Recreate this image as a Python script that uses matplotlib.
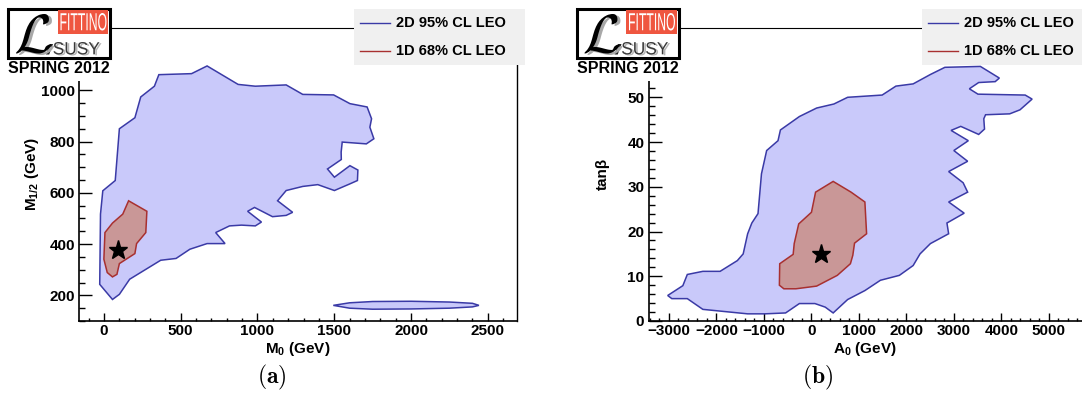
import matplotlib
matplotlib.use('Agg')
import matplotlib.pyplot as plt
from matplotlib.patches import Rectangle, PathPatch
from matplotlib.textpath import TextPath
from matplotlib.font_manager import FontProperties
from matplotlib.transforms import Affine2D
from matplotlib.ticker import MultipleLocator
from matplotlib.lines import Line2D

plt.rcParams['font.family'] = ['Liberation Sans', 'DejaVu Sans']
plt.rcParams['font.weight'] = 'bold'
plt.rcParams['mathtext.fontset'] = 'custom'
plt.rcParams['mathtext.rm'] = 'Liberation Sans:bold'
plt.rcParams['mathtext.it'] = 'Liberation Sans:bold'
plt.rcParams['mathtext.bf'] = 'Liberation Sans:bold'
plt.rcParams['mathtext.default'] = 'rm'

# ---------------- data (a): M0 vs M1/2 ----------------
m0_95 = [56, -27, -22, -7, 74, 101, 202, 240, 329, 358, 571, 672, 874, 986, 1187,
         1295, 1496, 1602, 1714, 1743, 1732, 1758, 1709, 1552, 1545, 1546, 1456,
         1501, 1602, 1654, 1651, 1602, 1501, 1393, 1295, 1187, 1131, 1229, 1187,
         1098, 981, 936, 1026, 986, 896, 818, 728, 789, 672, 560, 470, 370, 168, 101]
m12_95 = [184, 243, 517, 608, 648, 850, 893, 974, 1016, 1061, 1065, 1095, 1023, 1016,
          1021, 984, 982, 948, 935, 889, 856, 811, 791, 798, 759, 730, 693, 661, 706,
          689, 648, 635, 609, 632, 625, 609, 569, 524, 512, 507, 543, 528, 486, 471,
          474, 471, 445, 402, 402, 380, 344, 337, 263, 204]
m0_95_island = [1494, 1600, 1750, 2000, 2250, 2400, 2442, 2400, 2250, 2000, 1750, 1600]
m12_95_island = [161, 171, 176, 177, 174, 169, 161, 155, 150, 147, 146, 150]
m0_68 = [161, 280, 273, 213, 202, 101, 85, 56, 22, 0, 7, 56, 123]
m12_68 = [569, 528, 445, 402, 363, 324, 282, 272, 289, 341, 445, 482, 517]
best_a = (90, 376)

# ---------------- data (b): A0 vs tan(beta) ----------------
a0_95 = [-3026, -2707, -2613, -2286, -1923, -1560, -1437, -1343, -1255, -1125, -1052,
         -943, -704, -653, -254, 109, 472, 762, 1488, 1778, 2141, 2504, 2809, 3556,
         3955, 3868, 3520, 3324, 3505, 4499, 4645, 4390, 4173, 3665, 3628, 3643, 3520,
         3143, 2939, 3302, 2997, 3288, 2888, 3193, 3288, 2888, 3215, 2852, 2888, 2504,
         2286, 2141, 1851, 1451, 1125, 762, 457, 290, 73, -254, -544, -980, -1343,
         -2286, -2613, -2939]
tb_95 = [5.7, 7.9, 10.4, 11.1, 11.1, 13.5, 15.0, 19.5, 21.9, 24.0, 32.9, 38.1, 40.3,
         42.7, 45.7, 47.6, 48.5, 50.0, 50.5, 52.5, 53.0, 55.1, 56.7, 56.9, 54.3, 53.5,
         53.3, 51.9, 50.7, 50.5, 49.6, 47.2, 46.3, 46.1, 45.2, 42.9, 41.7, 43.5, 42.6,
         40.3, 38.1, 35.7, 33.4, 30.9, 28.8, 26.6, 24.1, 21.9, 19.5, 17.3, 15.0, 12.4,
         10.2, 9.1, 6.8, 4.8, 1.8, 3.1, 3.9, 3.9, 1.8, 1.6, 1.6, 2.6, 5.0, 5.0]
a0_68 = [457, 834, 1125, 1161, 907, 871, 820, 544, 109, -327, -581, -675, -668, -385,
         -363, -268, 0, 87]
tb_68 = [31.2, 28.8, 26.6, 19.5, 17.4, 14.7, 12.8, 10.2, 7.8, 7.2, 7.2, 8.0, 12.8,
         14.9, 17.3, 21.7, 24.3, 28.8]
best_b = (203, 14.9)

xticks_a = [0, 500, 1000, 1500, 2000, 2500]
yticks_a = [200, 400, 600, 800, 1000]
xticks_b = [-3000, -2000, -1000, 0, 1000, 2000, 3000, 4000, 5000]
yticks_b = [0, 10, 20, 30, 40, 50]
legend_labels = ['2D 95% CL LEO', '1D 68% CL LEO']
panel_tags = ['(a)', '(b)']

BLUE_FILL = '#c9c9fa'
BLUE_EDGE = '#3a3aa6'
RED_FILL = '#c99797'
RED_EDGE = '#a83030'

W, H = 1082, 416
fig = plt.figure(figsize=(W / 100, H / 100), dpi=100)


def fx(px):
    return px / W


def fy(py):
    return 1 - py / H


def make_axes(x0, x1, y0, y1):
    return fig.add_axes([fx(x0), fy(y1), fx(x1) - fx(x0), fy(y0) - fy(y1)])


def style(ax, xt, xminor, yt, yminor, right_spine=True):
    ax.set_xticks(xt)
    ax.set_yticks(yt)
    ax.xaxis.set_minor_locator(MultipleLocator(xminor))
    ax.yaxis.set_minor_locator(MultipleLocator(yminor))
    ax.tick_params(which='both', direction='in', top=False, right=False,
                   labelsize=11, width=1.0, color='black')
    ax.tick_params(axis='x', which='major', length=6, pad=2.5)
    ax.tick_params(axis='x', which='minor', length=2.5)
    ax.tick_params(axis='y', which='major', length=9, pad=3)
    ax.tick_params(axis='y', which='minor', length=4)
    for lab in ax.get_xticklabels() + ax.get_yticklabels():
        lab.set_fontweight('bold')
    ax.spines['left'].set_linewidth(1.2)
    ax.spines['bottom'].set_linewidth(1.2)
    ax.spines['top'].set_linewidth(0.8)
    ax.spines['right'].set_linewidth(1.0)
    ax.spines['right'].set_visible(right_spine)


# ---------------- panel (a) ----------------
axa = make_axes(79.3, 517, 27.5, 321)
axa.fill(m0_95, m12_95, facecolor=BLUE_FILL, edgecolor=BLUE_EDGE, lw=1.1, zorder=2)
axa.fill(m0_95_island, m12_95_island, facecolor=BLUE_FILL, edgecolor=BLUE_EDGE, lw=1.1, zorder=2)
axa.fill(m0_68, m12_68, facecolor=RED_FILL, edgecolor=RED_EDGE, lw=1.1, zorder=3)
axa.plot([best_a[0]], [best_a[1]], marker='*', color='black', markersize=14, zorder=4)
axa.set_xlim(-160, 2690)
axa.set_ylim(100, 1245)
style(axa, xticks_a, 100, yticks_a, 50, right_spine=True)
axa.set_xlabel('M$_0$ (GeV)', fontsize=11, fontweight='bold')
axa.xaxis.set_label_coords(0.5, -0.066)
axa.set_ylabel('M$_{1/2}$ (GeV)', fontsize=11, fontweight='bold')
axa.yaxis.set_label_coords(-0.088, 0.5)

# ---------------- panel (b) ----------------
axb = make_axes(648.5, 1082, 27.5, 321)
axb.fill(a0_95, tb_95, facecolor=BLUE_FILL, edgecolor=BLUE_EDGE, lw=1.1, zorder=2)
axb.fill(a0_68, tb_68, facecolor=RED_FILL, edgecolor=RED_EDGE, lw=1.1, zorder=3)
axb.plot([best_b[0]], [best_b[1]], marker='*', color='black', markersize=14, zorder=4)
axb.set_xlim(-3430, 5695)
axb.set_ylim(0, 65.6)
style(axb, xticks_b, 200, yticks_b, 2, right_spine=False)
axb.set_xlabel('A$_0$ (GeV)', fontsize=11, fontweight='bold')
axb.xaxis.set_label_coords(0.5, -0.066)
axb.set_ylabel('tan\u03b2', fontsize=11, fontweight='bold')
axb.yaxis.set_label_coords(-0.09, 0.5)


# ---------------- logo helpers ----------------
def boxed_text(ax, s, x0, y0, x1, y1, color, prop, z=3):
    tp = TextPath((0, 0), s, size=20, prop=prop)
    bb = tp.get_extents()
    tr = (Affine2D().translate(-bb.x0, -bb.y0)
          .scale((x1 - x0) / bb.width, (y1 - y0) / bb.height)
          .translate(x0, y0))
    path = tr.transform_path(tp)
    ax.add_patch(PathPatch(path, facecolor=color, edgecolor='none', zorder=z))


bold_sans = FontProperties(family='Liberation Sans', weight='bold')
reg_sans = FontProperties(family='Liberation Sans', weight='normal')
l_prop = FontProperties(family='DejaVu Serif', weight='bold', style='italic')
cal_prop = FontProperties(family='DejaVu Serif', math_fontfamily='cm')


def draw_L(ax, x0, y0, x1, y1, color):
    try:
        boxed_text(ax, r'$\mathcal{L}$', x0, y0, x1, y1, color, cal_prop)
    except Exception:
        boxed_text(ax, 'L', x0, y0, x1, y1, color, l_prop)


def logo(x0, y0):
    lw_, lh_ = 102, 49
    fig.add_artist(Rectangle((fx(x0), fy(y0 + 72)), lw_ / W, 23 / H,
                             transform=fig.transFigure, facecolor='white',
                             edgecolor='none', zorder=4))
    lax = fig.add_axes([fx(x0), fy(y0 + lh_), lw_ / W, lh_ / H], zorder=5)
    lax.set_xlim(0, lw_)
    lax.set_ylim(0, lh_)
    lax.axis('off')
    lax.add_patch(Rectangle((0, 0), lw_, lh_, facecolor='white', edgecolor='black',
                            lw=2.2, clip_on=False, zorder=1))
    lax.add_patch(Rectangle((49.7, 23.7), 50.3, 24.3, facecolor='#ef5640',
                            edgecolor='none', zorder=2))
    boxed_text(lax, 'FITTINO', 52.5, 27.5, 98.5, 45.0, 'white', reg_sans)
    boxed_text(lax, 'SUSY', 47.5, 2.5, 93.5, 15.0, '#b5b5b5', reg_sans)
    boxed_text(lax, 'SUSY', 45.5, 3.5, 91.5, 16.0, '#3a3a3a', reg_sans)
    boxed_text(lax, '/', 38, 3.5, 45, 14, '#222222', bold_sans)
    draw_L(lax, 11, 3.0, 46, 42.5, '#a8a8a8')
    draw_L(lax, 8, 4.5, 43, 44.0, 'black')
    fig.text(fx(x0 + lw_ / 2), fy(68.5), 'SPRING 2012', fontsize=11.5,
             fontweight='bold', ha='center', va='center', zorder=6)


logo(8, 9)
logo(576.5, 9)


# ---------------- legends ----------------
def legend(x0, x1):
    fig.add_artist(Rectangle((fx(x0), fy(64.5)), fx(x1) - fx(x0), (64.5 - 9) / H,
                             transform=fig.transFigure, facecolor='#f0f0f0',
                             edgecolor='none', zorder=4))
    for yy, col, lab in [(23, BLUE_EDGE, legend_labels[0]), (51, RED_EDGE, legend_labels[1])]:
        fig.add_artist(Line2D([fx(x0 + 6), fx(x0 + 36)], [fy(yy), fy(yy)],
                              transform=fig.transFigure, color=col, lw=1.0, zorder=5))
        fig.text(fx(x0 + 42), fy(yy), lab, fontsize=10.5, fontweight='bold',
                 ha='left', va='center', zorder=6)


legend(354, 525)
legend(922, 1082)

# ---------------- panel tags ----------------
fig.text(fx(272), fy(377), r'$\mathbf{' + panel_tags[0] + '}$', fontsize=17,
         ha='center', va='center', math_fontfamily='cm')
fig.text(fx(818), fy(377), r'$\mathbf{' + panel_tags[1] + '}$', fontsize=17,
         ha='center', va='center', math_fontfamily='cm')

fig.savefig('out.png', dpi=100)
